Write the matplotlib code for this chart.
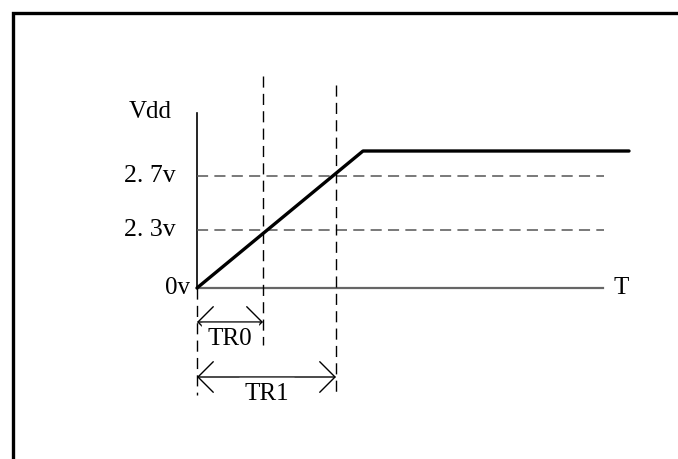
import matplotlib.pyplot as plt

# diagram geometry (pixel units of the 678x459 canvas)
x0, y0 = 197, 288            # origin (0v)
tr0_x, tr1_x = 263, 336      # threshold crossing times
ramp_x = [197, 363, 629]
ramp_y = [288, 151, 151]
level_names = ['2. 7v', '2. 3v', '0v']
level_y = [176, 230, 288]
span_names = ['TR0', 'TR1']
span_x = [tr0_x, tr1_x]
span_y = [322, 377]
span_bottom = [345, 395]

plt.rcParams['font.family'] = ['Liberation Serif', 'DejaVu Serif']
plt.rcParams['lines.scale_dashes'] = False

fig = plt.figure(figsize=(6.78, 4.59), dpi=100)
ax = fig.add_axes([0, 0, 1, 1])
ax.set_xlim(0, 678)
ax.set_ylim(459, 0)
ax.axis('off')

# frame
ax.plot([12.5, 12.5, 678], [459, 12.5, 12.5], color='black', lw=2.4,
        solid_joinstyle='miter')

# axes
ax.plot([x0, x0], [113, y0], color='black', lw=1.2)
ax.plot([x0, 603], [y0, y0], color='#666666', lw=1.6)
ax.text(x0 - 68, 112, 'Vdd', fontsize=18, ha='left', va='center')
ax.text(613, y0, 'T', fontsize=18, ha='left', va='center')

# level labels and dashed guide lines
for name, y in zip(level_names, level_y):
    if name == '0v':
        ax.text(x0 - 7, y, name, fontsize=18, ha='right', va='center')
    else:
        ax.text(x0 - 21, y, name, fontsize=18.5, ha='right', va='center')
        ax.plot([x0, 604], [y, y], color='#555555', lw=1.1, dashes=(8, 4.5))

# vertical dashed lines
ax.plot([x0, x0], [y0, 395], color='black', lw=1.0, dashes=(8, 4.5))
ax.plot([tr0_x, tr0_x], [76, span_bottom[0]], color='black', lw=1.0, dashes=(8, 4.5))
ax.plot([tr1_x, tr1_x], [85, span_bottom[1]], color='black', lw=1.0, dashes=(8, 4.5))

# ramp
ax.plot(ramp_x, ramp_y, color='black', lw=2.4, solid_capstyle='round')

# span arrows
for name, xe, y in zip(span_names, span_x, span_y):
    ax.annotate('', xy=(xe, y), xytext=(x0, y),
                arrowprops=dict(arrowstyle='<->,head_length=0.55,head_width=0.55',
                                mutation_scale=20, color='black', lw=1.0,
                                shrinkA=0, shrinkB=0))
    ax.text((x0 + xe) / 2, y + 17, name, fontsize=18, ha='center', va='center',
            backgroundcolor='white')

fig.savefig('out.png', dpi=100)
